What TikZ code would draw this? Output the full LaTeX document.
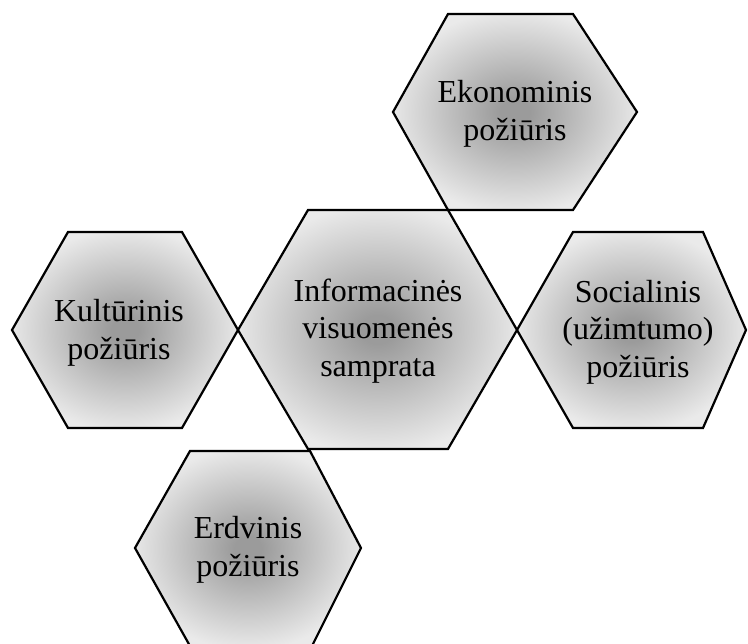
\documentclass[tikz,border=0pt]{standalone}
\usepackage{fontspec}
\setmainfont{Liberation Serif}
\definecolor{hexin}{RGB}{155,155,155}
\definecolor{hexout}{RGB}{234,234,234}
\pgfdeclareradialshading{hexshade}{\pgfpoint{0bp}{0bp}}{color(0bp)=(hexin); color(3bp)=(hexin); color(26bp)=(hexout); color(50bp)=(hexout)}
\tikzset{
  hexpath/.style={draw=black, line width=2.2pt, line join=miter, shading=hexshade},
  hexlabel/.style={align=center, inner sep=0pt, font=\fontsize{32}{37.5}\selectfont, text=black}
}
\begin{document}
\begin{tikzpicture}[x=1pt,y=-1pt]
\useasboundingbox (0,0) rectangle (748,644);
% hexagons
\path[hexpath] (393,112) -- (448,14) -- (573,14) -- (637,112) -- (573,210) -- (448,210) -- cycle;
\path[hexpath] (12,330) -- (68,232) -- (182,232) -- (238,330) -- (182,428) -- (68,428) -- cycle;
\path[hexpath] (517,330) -- (573,232) -- (703,232) -- (746,330) -- (703,428) -- (573,428) -- cycle;
\path[hexpath] (135,548) -- (190,451) -- (310,451) -- (361,548) -- (312,646) -- (190,646) -- cycle;
\path[hexpath] (238,330) -- (308,210) -- (448,210) -- (517,330) -- (448,449) -- (308,449) -- cycle;
% labels
\node[hexlabel] (center) at (378,331) {Informacinės\\visuomenės\\samprata};
\node[hexlabel] (ekon) at (515,114) {Ekonominis\\požiūris};
\node[hexlabel] (kult) at (119,333) {Kultūrinis\\požiūris};
\node[hexlabel] (soc) at (638,332) {Socialinis\\(užimtumo)\\požiūris};
\node[hexlabel] (erdv) at (248,550) {Erdvinis\\požiūris};
\end{tikzpicture}
\end{document}
